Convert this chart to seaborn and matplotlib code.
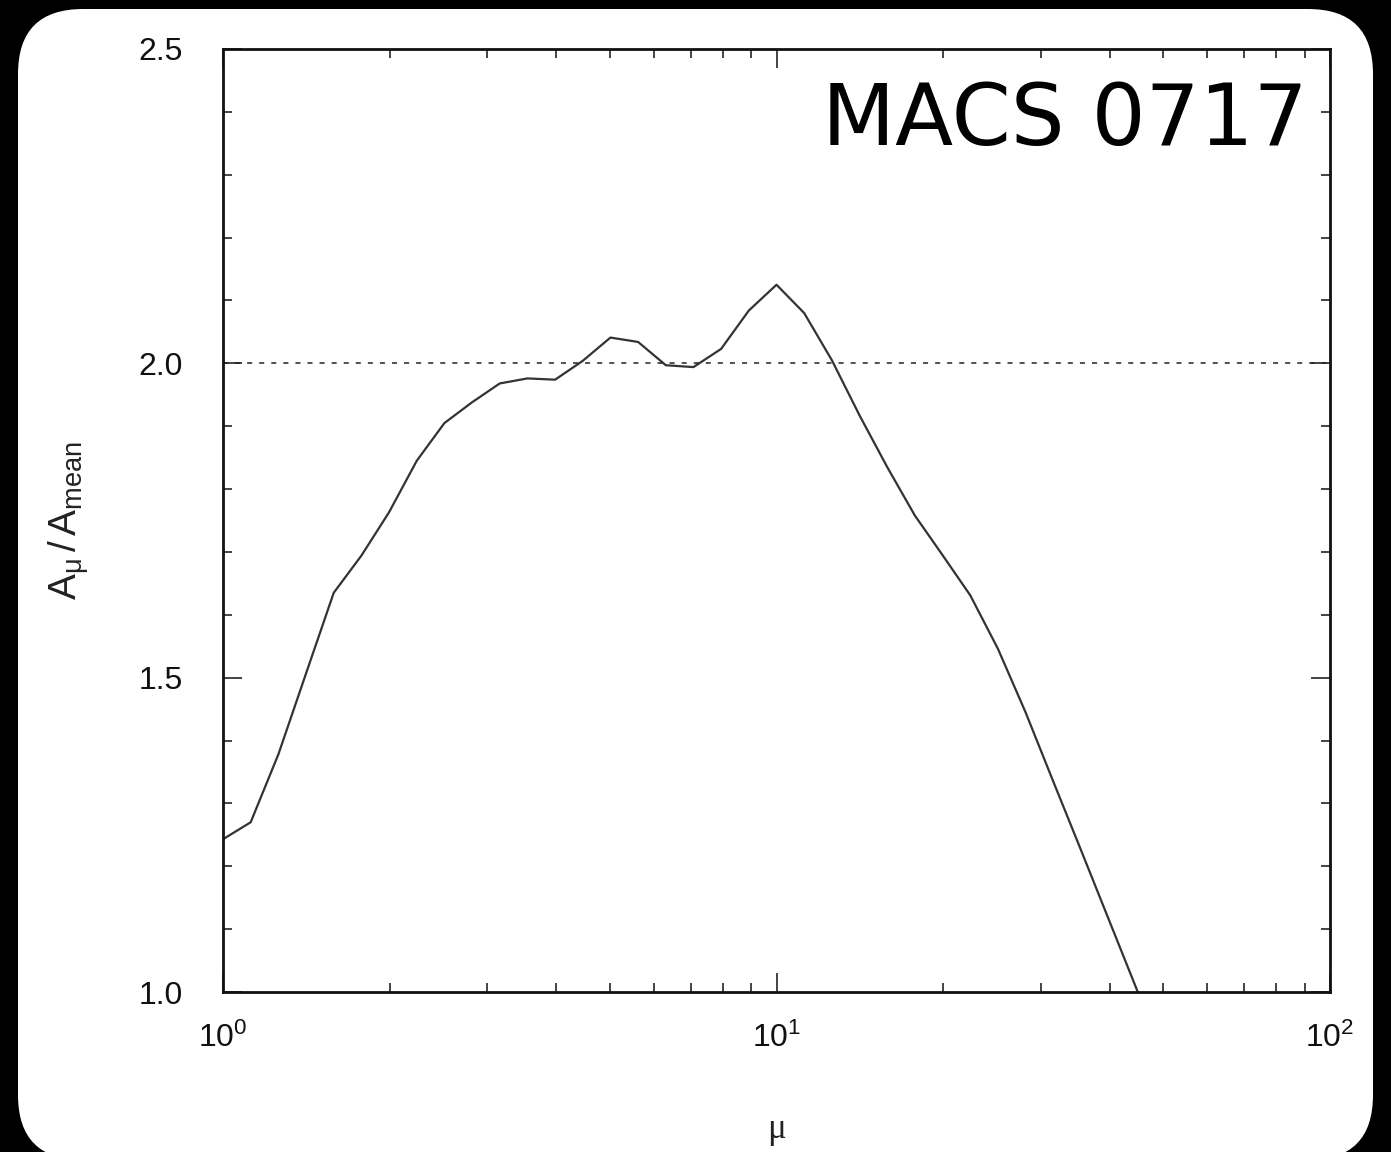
import numpy as np
import pandas as pd
import matplotlib
matplotlib.use("Agg")
import matplotlib.pyplot as plt
import matplotlib.ticker as mticker
from matplotlib.patches import FancyBboxPatch
from matplotlib.transforms import IdentityTransform
import seaborn as sns

# ---- data ----
mu = [1.000, 1.122, 1.259, 1.413, 1.585, 1.778, 1.995, 2.239, 2.512, 2.818,
      3.162, 3.548, 3.981, 4.467, 5.012, 5.623, 6.310, 7.079, 7.943, 8.913,
      10.00, 11.22, 12.59, 14.13, 15.85, 17.78, 19.95, 22.39, 25.12, 28.18,
      31.62, 35.48, 39.81, 44.67, 50.12]
ratio = [1.243, 1.270, 1.378, 1.507, 1.635, 1.694, 1.763, 1.845, 1.905, 1.938,
         1.968, 1.976, 1.974, 2.004, 2.041, 2.034, 1.997, 1.994, 2.023, 2.084,
         2.125, 2.080, 2.005, 1.917, 1.835, 1.758, 1.695, 1.631, 1.546, 1.445,
         1.335, 1.226, 1.116, 1.006, 0.895]
ref_level = 2.0
title_text = "MACS 0717"
x_label = "μ"
y_label = r"$\mathrm{A_{\mu}\,/\,A_{mean}}$"

df = pd.DataFrame({"mu": mu, "ratio": ratio})

sns.set_theme(style="ticks")
plt.rcParams["font.family"] = ["Liberation Sans", "DejaVu Sans"]
plt.rcParams["mathtext.fontset"] = "custom"
plt.rcParams["mathtext.rm"] = "Liberation Sans"
plt.rcParams["mathtext.it"] = "Liberation Sans:italic"
plt.rcParams["mathtext.bf"] = "Liberation Sans:bold"

W, H = 1391, 1152
fig = plt.figure(figsize=(W / 100, H / 100), dpi=100, facecolor="black")

# white rounded panel (behind everything)
panel = FancyBboxPatch((18, -8), 1373 - 18, (H - 9) + 8,
                       boxstyle="round,pad=0,rounding_size=65",
                       transform=IdentityTransform(), facecolor="white",
                       edgecolor="none", zorder=-10)
fig.patches.append(panel)

ax = fig.add_axes([223 / W, (H - 992) / H, (1330 - 223) / W, (992 - 49) / H])
ax.set_zorder(1)
ax.set_facecolor("white")

sns.lineplot(data=df, x="mu", y="ratio", ax=ax, color="#333333", lw=1.6,
             estimator=None, sort=False)
ax.axhline(ref_level, color="#222222", lw=1.1, linestyle=(0, (3.3, 4.6)))

ax.set_xscale("log")
ax.set_xlim(1, 100)
ax.set_ylim(1.0, 2.5)

ax.xaxis.set_major_locator(mticker.LogLocator(base=10, numticks=10))
ax.xaxis.set_minor_locator(mticker.LogLocator(base=10, subs=np.arange(2, 10), numticks=20))
ax.xaxis.set_major_formatter(mticker.LogFormatterSciNotation())
ax.xaxis.set_minor_formatter(mticker.NullFormatter())
ax.yaxis.set_major_locator(mticker.FixedLocator([1.0, 1.5, 2.0, 2.5]))
ax.yaxis.set_minor_locator(mticker.MultipleLocator(0.1))
ax.yaxis.set_major_formatter(mticker.FormatStrFormatter("%.1f"))

ax.tick_params(which="both", direction="in", top=True, right=True,
               colors="#111111", width=1.1)
ax.tick_params(which="major", length=13.5, labelsize=23)
ax.tick_params(which="minor", length=6.5)
ax.tick_params(axis="y", which="major", pad=29)
ax.tick_params(axis="x", which="major", pad=22)

for s in ax.spines.values():
    s.set_visible(True)
    s.set_linewidth(2.0)
    s.set_color("#111111")

ax.set_xlabel(x_label, fontsize=25, family=["Liberation Serif", "DejaVu Serif"],
              color="#222222")
ax.xaxis.set_label_coords(0.5, -0.128)
ax.set_ylabel(y_label, fontsize=28, color="#222222")
ax.yaxis.set_label_coords(-0.118, 0.5)

fig.text(1308 / W, (H - 145) / H, title_text, ha="right", va="baseline",
         fontsize=61, family=["DejaVu Sans"], color="black", zorder=5)

fig.savefig("out.png", dpi=100, facecolor=fig.get_facecolor())
